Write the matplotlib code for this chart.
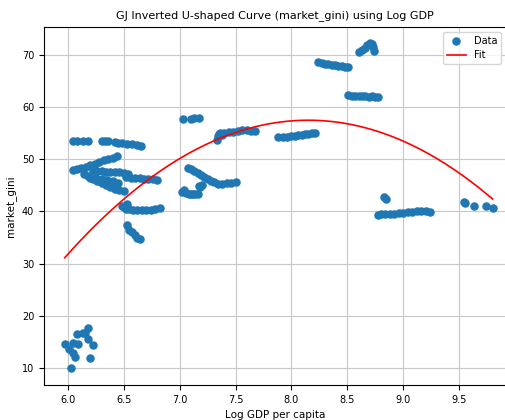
import numpy as np
import matplotlib
matplotlib.use("Agg")
import matplotlib.pyplot as plt

# ---- data (log GDP per capita, market gini) ----
x_low = [5.97, 6.01, 6.04, 6.08, 6.09, 6.13, 6.15, 6.18, 6.18, 6.22, 6.20, 6.06, 6.04, 6.03]
y_low = [14.6, 13.6, 14.8, 16.5, 14.6, 16.7, 16.7, 17.7, 15.6, 14.4, 11.9, 12.1, 12.9, 10.0]

x_top53 = [6.04, 6.08, 6.13, 6.18, 6.30, 6.33, 6.36, 6.42, 6.45, 6.48, 6.53, 6.57, 6.62, 6.65]
y_top53 = [53.5, 53.6, 53.5, 53.6, 53.6, 53.5, 53.5, 53.3, 53.2, 53.1, 53.0, 52.9, 52.8, 52.6]

x_rise48 = [6.04, 6.08, 6.12, 6.16, 6.20, 6.24, 6.28, 6.32, 6.36, 6.40, 6.44]
y_rise48 = [48.0, 48.1, 48.3, 48.6, 48.9, 49.2, 49.5, 49.8, 50.0, 50.3, 50.6]

x_band47 = [6.22, 6.26, 6.30, 6.34, 6.38, 6.42, 6.46, 6.50, 6.54]
y_band47 = [47.8, 47.7, 47.7, 47.6, 47.6, 47.6, 47.5, 47.4, 47.2]

x_band46 = [6.52, 6.56, 6.60, 6.64, 6.68, 6.72, 6.76, 6.80]
y_band46 = [46.6, 46.5, 46.4, 46.4, 46.3, 46.2, 46.2, 46.1]

x_desc44 = [6.14, 6.18, 6.22, 6.26, 6.30, 6.34, 6.38, 6.42, 6.46, 6.50]
y_desc44 = [47.2, 46.8, 46.3, 45.9, 45.5, 45.0, 44.7, 44.4, 44.2, 44.0]

x_mid45 = [6.20, 6.25, 6.30, 6.35, 6.40, 6.45]
y_mid45 = [46.5, 46.4, 46.2, 46.0, 45.8, 45.5]

x_flat40 = [6.48, 6.50, 6.52, 6.53, 6.55, 6.58, 6.62, 6.66, 6.70, 6.74, 6.78, 6.82]
y_flat40 = [41.0, 40.8, 40.5, 41.5, 40.4, 40.3, 40.3, 40.2, 40.3, 40.3, 40.5, 40.7]

x_drop35 = [6.53, 6.55, 6.57, 6.60, 6.62, 6.64]
y_drop35 = [37.5, 36.5, 36.0, 35.5, 35.0, 34.7]

x_c58 = [7.03, 7.10, 7.13, 7.17]
y_c58 = [57.7, 57.8, 57.9, 58.0]

x_d55 = [7.33, 7.34, 7.35, 7.36, 7.38, 7.40, 7.44, 7.48, 7.52, 7.56, 7.60, 7.64, 7.67]
y_d55 = [53.8, 54.4, 54.9, 55.0, 54.6, 55.0, 55.2, 55.3, 55.5, 55.6, 55.7, 55.5, 55.4]

x_e54 = [7.88, 7.92, 7.96, 8.00, 8.03, 8.06, 8.09, 8.12, 8.15, 8.18, 8.21]
y_e54 = [54.2, 54.2, 54.3, 54.4, 54.5, 54.6, 54.7, 54.8, 54.9, 55.0, 55.1]

x_f48 = [7.07, 7.10, 7.13, 7.16, 7.19, 7.22, 7.25, 7.28, 7.31, 7.34, 7.38, 7.42, 7.46, 7.50]
y_f48 = [48.4, 48.1, 47.7, 47.3, 47.0, 46.6, 46.2, 45.9, 45.6, 45.3, 45.3, 45.4, 45.5, 45.6]

x_f43 = [7.02, 7.04, 7.06, 7.08, 7.10, 7.12, 7.14, 7.16, 7.18, 7.17, 7.20]
y_f43 = [43.8, 44.2, 43.5, 43.3, 43.4, 43.3, 43.4, 43.3, 44.6, 44.8, 45.0]

x_g68 = [8.24, 8.27, 8.30, 8.33, 8.36, 8.39, 8.42, 8.45, 8.48, 8.51]
y_g68 = [68.6, 68.4, 68.3, 68.2, 68.1, 68.0, 67.9, 67.9, 67.8, 67.7]

x_g72 = [8.60, 8.63, 8.66, 8.68, 8.70, 8.72, 8.73, 8.74]
y_g72 = [70.6, 71.0, 71.3, 71.9, 72.3, 72.1, 71.5, 70.8]

x_h62 = [8.51, 8.54, 8.57, 8.60, 8.63, 8.66, 8.69, 8.72, 8.75, 8.77]
y_h62 = [62.3, 62.2, 62.2, 62.1, 62.1, 62.2, 62.0, 62.1, 62.0, 62.0]

x_i40 = [8.77, 8.80, 8.84, 8.88, 8.92, 8.96, 9.00, 9.04, 9.08, 9.12, 9.16, 9.20, 9.24, 8.83, 8.85]
y_i40 = [39.4, 39.5, 39.5, 39.6, 39.6, 39.7, 39.8, 39.9, 39.9, 40.0, 40.0, 40.0, 39.9, 42.7, 42.4]

x_j41 = [9.54, 9.55, 9.63, 9.74, 9.80]
y_j41 = [41.8, 41.6, 41.1, 41.0, 40.7]

# quadratic fit: y = a*x^2 + b*x + c
fit_a = -5.55
fit_b = 90.465
fit_c = -311.145

xs_groups = [x_low, x_top53, x_rise48, x_band47, x_band46, x_desc44, x_mid45, x_flat40,
             x_drop35, x_c58, x_d55, x_e54, x_f48, x_f43, x_g68, x_g72, x_h62, x_i40, x_j41]
ys_groups = [y_low, y_top53, y_rise48, y_band47, y_band46, y_desc44, y_mid45, y_flat40,
             y_drop35, y_c58, y_d55, y_e54, y_f48, y_f43, y_g68, y_g72, y_h62, y_i40, y_j41]

x = np.concatenate([np.asarray(g, float) for g in xs_groups])
y = np.concatenate([np.asarray(g, float) for g in ys_groups])

xf = np.linspace(x.min(), x.max(), 200)
yf = np.polyval([fit_a, fit_b, fit_c], xf)

fig = plt.figure(figsize=(5.06, 4.2), dpi=100)
ax = fig.add_axes([0.087, 0.083, 0.913, 0.853])
ax.scatter(x, y, s=26, color="#1f77b4", label="Data", zorder=3)
ax.plot(xf, yf, color="red", lw=1.2, label="Fit", zorder=4)

ax.set_xlim(5.785, 9.92)
ax.set_ylim(6.7, 75.4)
ax.set_xticks([6.0, 6.5, 7.0, 7.5, 8.0, 8.5, 9.0, 9.5])
ax.set_yticks([10, 20, 30, 40, 50, 60, 70])
ax.tick_params(labelsize=7)
ax.grid(True, color="#c8c8c8", lw=0.8)
ax.set_axisbelow(True)
ax.set_title("GJ Inverted U-shaped Curve (market_gini) using Log GDP", fontsize=8)
ax.set_xlabel("Log GDP per capita", fontsize=7.5)
ax.set_ylabel("market_gini", fontsize=7.5)
ax.legend(loc="upper right", fontsize=7)

fig.savefig("out.png", dpi=100)
